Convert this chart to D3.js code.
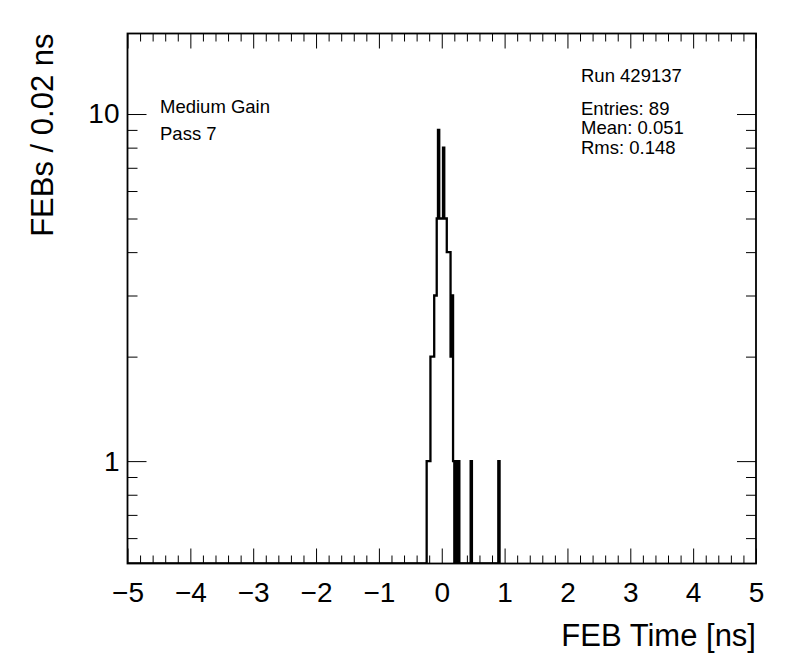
<!DOCTYPE html>
<html>
<head>
<meta charset="utf-8">
<script src="https://cdn.jsdelivr.net/npm/d3@7"></script>
<style>
  body { margin: 0; background: white; }
  svg { display: block; font-family: "Liberation Sans", Arial, Helvetica, sans-serif; }
</style>
</head>
<body>
<div id="main"></div>
<script>
// histogram bins (lower edge in ns, width 0.02 ns) and their counts
const binWidth = 0.02;
const binLow = [-0.24, -0.22, -0.20, -0.18, -0.16, -0.14, -0.12, -0.10, -0.08, -0.06,
                -0.04, -0.02, 0.00, 0.02, 0.04, 0.06, 0.08, 0.10, 0.12, 0.14,
                0.16, 0.18, 0.20, 0.22, 0.24, 0.26, 0.46, 0.90];
const counts = [1, 1, 1, 2, 2, 2, 3, 3, 5, 9,
                5, 5, 5, 8, 5, 5, 4, 4, 4, 2,
                3, 1, 0, 1, 0, 1, 1, 1];

const xTicks = [-5, -4, -3, -2, -1, 0, 1, 2, 3, 4, 5];
const yTicks = [1, 10];
const yMinor = [0.6, 0.7, 0.8, 0.9, 2, 3, 4, 5, 6, 7, 8, 9];

const statsLines = ["Entries: 89", "Mean: 0.051", "Rms: 0.148"];
const runLabel = "Run 429137";
const infoLines = ["Medium Gain", "Pass 7"];

const width = 796;
const height = 672;
const margin = { top: 33.5, right: 40, bottom: 108.5, left: 127.5 };
const x0 = margin.left, x1 = width - margin.right;
const y0 = height - margin.bottom, y1 = margin.top;

const svg = d3.select("#main")
  .append("svg")
  .attr("width", width)
  .attr("height", height)
  .attr("viewBox", [0, 0, width, height]);

const x = d3.scaleLinear().domain([-5, 5]).range([x0, x1]);
const y = d3.scaleLog().domain([0.507, 17.06]).range([y0, y1]);

svg.append("clipPath").attr("id", "plot")
  .append("rect").attr("x", x0).attr("y", y1).attr("width", x1 - x0).attr("height", y0 - y1);

// step outline over consecutive bins, empty bins sit on the frame bottom
const bins = binLow.map((b, i) => ({ lo: b, n: counts[i] }));
const pts = [[x(-5), y0]];
let prevHi = -5;
bins.forEach(d => {
  if (d.lo - prevHi > 1e-6) {        // gap of empty bins
    pts.push([x(prevHi), y0]);
    pts.push([x(d.lo), y0]);
  }
  const yy = d.n > 0 ? y(d.n) : y0 + 4;
  pts.push([x(d.lo), yy]);
  pts.push([x(d.lo + binWidth), yy]);
  prevHi = d.lo + binWidth;
});
pts.push([x(prevHi), y0 + 4]);
pts.push([x(5), y0 + 4]);

svg.append("path")
  .attr("clip-path", "url(#plot)")
  .attr("d", d3.line()(pts))
  .attr("fill", "none")
  .attr("stroke", "black")
  .attr("stroke-width", 2.3)
  .attr("stroke-linejoin", "miter");

// minor x ticks every 0.2
const xMinor = d3.range(-5, 5.001, 0.2).filter(v => Math.abs(v - Math.round(v)) > 1e-6);

function xAxis(g) {
  g.attr("transform", `translate(0,${y0})`)
    .call(d3.axisBottom(x).tickValues(xTicks).tickSizeInner(-15).tickSizeOuter(0).tickPadding(19))
    .attr("font-size", "28px")
    .attr("font-family", null)
    .call(g => g.select(".domain").remove())
    .call(g => g.selectAll("text").attr("dy", "0.71em").attr("fill", "black"));
}
function xAxisMinor(g) {
  g.attr("transform", `translate(0,${y0})`)
    .call(d3.axisBottom(x).tickValues(xMinor).tickSizeInner(-8).tickSizeOuter(0).tickFormat(""))
    .call(g => g.select(".domain").remove());
}
function xTop(g) {
  g.attr("transform", `translate(0,${y1})`)
    .call(d3.axisTop(x).tickValues(xTicks).tickSizeInner(-15).tickSizeOuter(0).tickFormat(""))
    .call(g => g.select(".domain").remove());
}
function xTopMinor(g) {
  g.attr("transform", `translate(0,${y1})`)
    .call(d3.axisTop(x).tickValues(xMinor).tickSizeInner(-8).tickSizeOuter(0).tickFormat(""))
    .call(g => g.select(".domain").remove());
}
function yAxis(g) {
  g.attr("transform", `translate(${x0},0)`)
    .call(d3.axisLeft(y).tickValues(yTicks).tickFormat(d3.format("d")).tickSizeInner(-19).tickSizeOuter(0).tickPadding(8))
    .attr("font-size", "28px")
    .attr("font-family", null)
    .call(g => g.select(".domain").remove())
    .call(g => g.selectAll("text").attr("fill", "black"));
}
function yAxisMinor(g) {
  g.attr("transform", `translate(${x0},0)`)
    .call(d3.axisLeft(y).tickValues(yMinor).tickSizeInner(-10).tickSizeOuter(0).tickFormat(""))
    .call(g => g.select(".domain").remove());
}
function yRight(g) {
  g.attr("transform", `translate(${x1},0)`)
    .call(d3.axisRight(y).tickValues(yTicks).tickSizeInner(-19).tickSizeOuter(0).tickFormat(""))
    .call(g => g.select(".domain").remove());
}
function yRightMinor(g) {
  g.attr("transform", `translate(${x1},0)`)
    .call(d3.axisRight(y).tickValues(yMinor).tickSizeInner(-10).tickSizeOuter(0).tickFormat(""))
    .call(g => g.select(".domain").remove());
}

svg.append("g").call(xAxis);
svg.append("g").call(xAxisMinor);
svg.append("g").call(xTop);
svg.append("g").call(xTopMinor);
svg.append("g").call(yAxis);
svg.append("g").call(yAxisMinor);
svg.append("g").call(yRight);
svg.append("g").call(yRightMinor);
svg.selectAll(".tick line").attr("stroke", "black").attr("stroke-width", 1);

// frame
svg.append("rect")
  .attr("x", x0).attr("y", y1)
  .attr("width", x1 - x0).attr("height", y0 - y1)
  .attr("fill", "none")
  .attr("stroke", "black")
  .attr("stroke-width", 1.8);

// axis titles
svg.append("text")
  .attr("x", x1).attr("y", 646)
  .attr("text-anchor", "end")
  .attr("font-size", "31px")
  .text("FEB Time [ns]");

svg.append("text")
  .attr("transform", `translate(53,${y1}) rotate(-90)`)
  .attr("text-anchor", "end")
  .attr("font-size", "31px")
  .text("FEBs / 0.02 ns");

// labels inside the frame
svg.append("g").selectAll("text")
  .data(infoLines)
  .join("text")
  .attr("x", 160)
  .attr("y", (d, i) => 112.5 + i * 27.5)
  .attr("font-size", "18.5px")
  .text(d => d);

svg.append("text")
  .attr("x", 581).attr("y", 81.5)
  .attr("font-size", "18.5px")
  .text(runLabel);

svg.append("g").selectAll("text")
  .data(statsLines)
  .join("text")
  .attr("x", 581)
  .attr("y", (d, i) => 114.5 + i * 19.7)
  .attr("font-size", "18.5px")
  .text(d => d);
</script>
</body>
</html>
